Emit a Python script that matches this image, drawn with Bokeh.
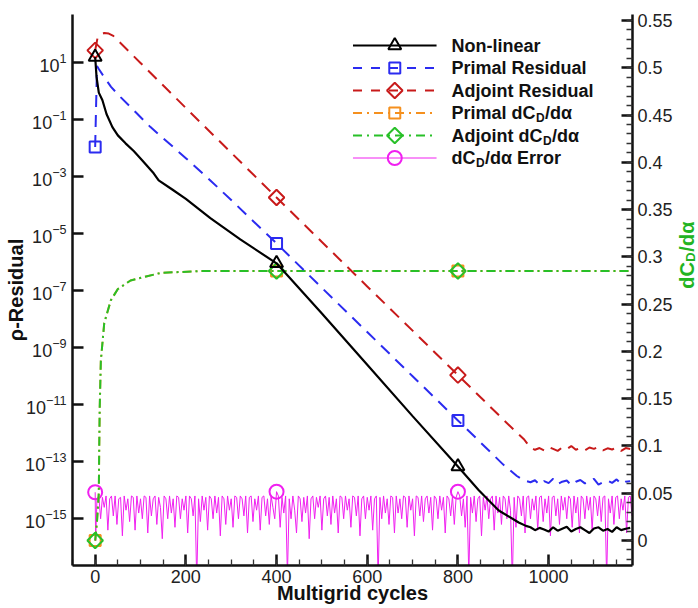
import numpy as np
from bokeh.plotting import figure
from bokeh.layouts import row
from bokeh.models import (Range1d, LinearAxis, LinearScale, FixedTicker, SingleIntervalTicker,
                          Label, CustomJSTickFormatter)
from bokeh.embed import file_html
from bokeh.resources import INLINE

# ---------------- data ----------------
# residual series are stored as log10 of the value
marked_iters = [0, 400, 800]

nonlin_x = [0, 3, 8, 16, 25, 38, 50, 67, 85, 104, 129, 140, 170, 200, 254, 320, 400, 500,
            600, 700, 800, 846, 890, 934, 950] + list(range(960, 1181, 10))
nonlin_log = [1.2, 0.5, -0.05, -0.32, -0.8, -1.26, -1.55, -1.83, -2.1, -2.43, -2.88, -3.13,
              -3.45, -3.78, -4.45, -5.2, -6.04, -7.8, -9.6, -11.4, -13.17, -14.0, -14.71,
              -15.13, -15.25,
              -15.3, -15.4, -15.32, -15.38, -15.45, -15.3, -15.42, -15.35, -15.28, -15.45,
              -15.36, -15.3, -15.4, -15.5, -15.34, -15.3, -15.42, -15.36, -15.46, -15.3,
              -15.4, -15.35, -15.32]

primal_x = [0, 4, 8, 20, 35, 56, 90, 122, 200, 254, 300, 400, 500, 600, 700, 800, 900, 930,
            945] + list(range(960, 1181, 10))
primal_log = [-1.96, 0.88, 0.78, 0.49, 0.15, -0.21, -0.75, -1.26, -2.35, -3.13, -3.82,
              -5.34, -6.9, -8.45, -10.0, -11.55, -13.1, -13.5, -13.65,
              -13.72, -13.65, -13.8, -13.68, -13.75, -13.6, -13.78, -13.7, -13.66, -13.82,
              -13.7, -13.64, -13.76, -13.7, -13.6, -13.8, -13.72, -13.66, -13.74, -13.62,
              -13.78, -13.7, -13.68]

adjoint_x = [0, 5, 12, 20, 30, 40, 100, 200, 300, 400, 500, 600, 700, 800, 900, 930,
             945, 955] + list(range(960, 1181, 10))
adjoint_log = [1.43, 1.85, 2.0, 2.04, 2.02, 1.94, 0.99, -0.59, -2.16, -3.73, -5.29,
               -6.85, -8.4, -9.96, -11.52, -11.98, -12.2, -12.4,
               -12.5, -12.58, -12.52, -12.6, -12.48, -12.55, -12.62, -12.5, -12.56, -12.45,
               -12.58, -12.52, -12.6, -12.5, -12.55, -12.48, -12.6, -12.53, -12.57, -12.5,
               -12.62, -12.52, -12.55]

dcd_x = [0, 4, 8, 9, 10, 12.5, 20, 34.5, 50, 78, 144, 232, 400, 800, 1185]
primal_dcd = [0, 0.02, 0.05, 0.1, 0.14, 0.19, 0.23, 0.254, 0.266, 0.275, 0.283, 0.285,
              0.285, 0.285, 0.285]
adjoint_dcd = [0, 0.02, 0.05, 0.1, 0.14, 0.19, 0.23, 0.254, 0.266, 0.275, 0.283, 0.285,
               0.285, 0.285, 0.285]

err_x = [0, 1] + list(range(4, 1185, 4))
err_log = [-14.07, -15.77,
    -14.3, -14.2, -15.0, -14.25, -14.6, -14.2, -15.4, -14.3, -14.2, -14.9, -14.2, -15.2, -14.3, -14.25, -15.6, -14.2, -14.7, -14.3, -15.1, -14.2,
    -14.25, -15.4, -14.2, -14.8, -14.3, -15.0, -14.2, -14.25, -15.5, -14.2, -14.9, -14.3, -14.2, -15.2, -14.25, -14.6, -15.7, -14.2, -14.3, -15.0,
    -14.2, -14.8, -14.3, -15.3, -14.2, -14.25, -15.0, -14.3, -14.7, -14.2, -15.5, -14.2, -14.3, -14.9, -14.2, -17.2, -14.3, -15.1, -14.2, -14.7,
    -14.25, -15.4, -14.2, -14.3, -15.0, -14.2, -14.8, -14.25, -15.6, -14.2, -14.3, -15.2, -14.2, -14.7, -14.3, -15.3, -14.2, -14.25, -15.0, -14.2,
    -14.3, -14.9, -14.2, -15.5, -14.25, -14.2, -15.1, -14.3, -14.7, -14.2, -15.4, -14.25, -14.2, -14.9, -14.3, -15.2, -14.2, -14.6, -15.0, -14.05,
    -14.2, -15.3, -14.25, -14.8, -14.2, -17.0, -14.3, -15.0, -14.2, -14.7, -15.5, -14.2, -14.3, -15.1, -14.25, -14.8, -14.2, -15.7, -14.3, -14.2,
    -15.0, -14.25, -14.6, -14.2, -15.4, -14.3, -14.2, -14.9, -14.25, -15.2, -14.2, -14.8, -14.3, -15.5, -14.2, -14.25, -15.0, -14.2, -14.7, -14.3,
    -15.3, -14.2, -14.25, -14.9, -14.2, -15.6, -14.3, -14.2, -15.0, -14.25, -14.7, -14.2, -15.4, -14.3, -14.2, -17.1, -14.25, -15.0, -14.2, -14.8,
    -14.3, -15.2, -14.2, -14.25, -15.5, -14.2, -14.8, -14.3, -15.0, -14.2, -14.25, -15.3, -14.2, -14.7, -14.3, -15.6, -14.2, -14.25, -14.9, -14.2,
    -15.1, -14.3, -14.2, -14.8, -14.25, -15.4, -14.2, -14.3, -15.0, -14.2, -14.7, -14.25, -15.5, -14.2, -14.3, -14.9, -14.2, -15.2, -14.25, -14.05,
    -14.2, -14.9, -14.3, -15.3, -14.2, -17.0, -14.25, -14.8, -14.2, -15.1, -14.3, -14.2, -15.6, -14.25, -14.7, -14.2, -15.0, -14.3, -14.2, -15.4,
    -14.2, -14.8, -14.25, -15.2, -14.2, -14.3, -15.0, -14.2, -14.7, -17.2, -14.25, -15.3, -14.2, -14.3, -14.9, -14.2, -15.5, -14.25, -14.2, -15.0,
    -14.3, -14.7, -14.2, -15.4, -14.25, -14.2, -15.1, -14.3, -14.8, -14.2, -15.6, -14.25, -14.2, -14.9, -14.3, -15.2, -14.2, -14.7, -14.25, -15.0,
    -14.2, -14.3, -15.3, -14.2, -14.8, -14.25, -15.5, -14.2, -14.3, -15.0, -14.2, -14.7, -14.25, -15.4, -14.2, -14.3, -14.9, -14.2, -15.1, -14.25,
    -14.2, -17.1, -14.3, -14.8, -14.2, -15.2, -14.25, -14.2, -15.0, -14.3, -14.7, -14.2, -15.5, -14.25, -14.2, -14.9]

left_ticks = [10.0 ** k for k in range(-15, 2, 2)]

# ---------------- layout constants ----------------
W, H = 698, 608
TW = 23                                    # strip on the right holding the right-axis title
FL, FR, FT, FB = 72, 635, 14, 565          # frame edges in pixels
XR = (-50, 1185)
LYR = (-16.64, 2.69)                       # log10 range of left axis
RR = (-0.0264, 0.5563)                     # right axis range

FONT = "Liberation Sans"
C_BLACK = "#000000"
C_BLUE = "#2b2bf0"
C_RED = "#c81a1a"
C_ORANGE = "#f5901e"
C_GREEN = "#28c028"
C_MAG = "#f020f0"


def px2x(px):
    return XR[0] + (px - FL) / (FR - FL) * (XR[1] - XR[0])


def py2y(py):
    return 10 ** (LYR[1] - (py - FT) / (FB - FT) * (LYR[1] - LYR[0]))


def pow10(a):
    return [10.0 ** v for v in a]


p = figure(width=W - TW, height=H, x_range=Range1d(*XR),
           y_range=Range1d(10 ** LYR[0], 10 ** LYR[1]), y_axis_type="log",
           output_backend="svg", toolbar_location=None,
           min_border_left=FL, min_border_right=W - TW - FR,
           min_border_top=FT, min_border_bottom=H - FB)
p.extra_y_ranges = {"right": Range1d(*RR)}
p.extra_y_scales = {"right": LinearScale()}
p.outline_line_color = None
p.grid.visible = False
p.background_fill_color = "white"
p.border_fill_color = "white"

lax = p.left[0]
bax = p.below[0]
rax = LinearAxis(y_range_name="right")
p.add_layout(rax, "right")

for ax in (lax, bax, rax):
    ax.axis_line_width = 2.5
    ax.axis_line_color = "#111111"
    ax.major_tick_line_width = 2.5
    ax.major_tick_line_color = "#111111"
    ax.major_tick_in = 11
    ax.major_tick_out = 0
    ax.minor_tick_in = 6
    ax.minor_tick_out = 0
    ax.minor_tick_line_width = 1.3
    ax.minor_tick_line_color = "#333333"
    ax.major_label_text_font = FONT
    ax.major_label_text_font_size = "18px"
    ax.major_label_text_color = "#222222"
    ax.axis_label_text_font = FONT
    ax.axis_label_text_font_style = "bold"
    ax.axis_label_text_font_size = "20px"
    ax.axis_label_text_color = "#111111"

lax.ticker = FixedTicker(ticks=left_ticks, minor_ticks=[])
lax.minor_tick_line_color = None
lax.major_label_standoff = 6
lax.axis_label = "ρ-Residual"
lax.axis_label_standoff = -5

bax.ticker = SingleIntervalTicker(interval=200, num_minor_ticks=4)
bax.major_label_standoff = 4
bax.axis_label = "Multigrid cycles"
bax.axis_label_standoff = -4

rax.ticker = SingleIntervalTicker(interval=0.05, num_minor_ticks=5)
rax.formatter = CustomJSTickFormatter(code="return String(Math.round(tick*100)/100);")
rax.major_label_standoff = 5

# ---------------- series ----------------
def marks(xs, ys):
    d = dict(zip(xs, ys))
    return [m for m in marked_iters], [d[m] for m in marked_iters]


MK = dict(fill_color=None, line_width=2)

# magenta error (left axis)
p.line(err_x, pow10(err_log), line_color=C_MAG, line_width=1)
mx, my = marks(err_x, pow10(err_log))
p.scatter(mx, my, marker="circle", size=14, line_color=C_MAG, **MK)

# dCD/dalpha (right axis)
p.line(dcd_x, primal_dcd, y_range_name="right", line_color=C_ORANGE, line_width=2,
       line_dash="9 4 2 4")
mx, my = marks(dcd_x, primal_dcd)
p.scatter(mx, my, y_range_name="right", marker="square", size=11, line_color=C_ORANGE, **MK)
p.line(dcd_x, adjoint_dcd, y_range_name="right", line_color=C_GREEN, line_width=2,
       line_dash="9 4 2 4")
mx, my = marks(dcd_x, adjoint_dcd)
p.scatter(mx, my, y_range_name="right", marker="square", angle=np.pi / 4, size=11,
          line_color=C_GREEN, **MK)

# adjoint residual
p.line(adjoint_x, pow10(adjoint_log), line_color=C_RED, line_width=2, line_dash="12 8")
mx, my = marks(adjoint_x, pow10(adjoint_log))
p.scatter(mx, my, marker="square", angle=np.pi / 4, size=11, line_color=C_RED, **MK)

# primal residual
p.line(primal_x, pow10(primal_log), line_color=C_BLUE, line_width=2, line_dash="12 8")
mx, my = marks(primal_x, pow10(primal_log))
p.scatter(mx, my, marker="square", size=11, line_color=C_BLUE, **MK)

# non-linear
p.line(nonlin_x, pow10(nonlin_log), line_color=C_BLACK, line_width=2.2)
mx, my = marks(nonlin_x, pow10(nonlin_log))
p.scatter(mx, my, marker="triangle", size=13, line_color=C_BLACK, **MK)

# ---------------- custom legend ----------------
entries = [
    (["Non-linear"], C_BLACK, None, "triangle", 0, 13, 2.2),
    (["Primal Residual"], C_BLUE, "9 9", "square", 0, 11, 2),
    (["Adjoint Residual"], C_RED, "9 9", "square", np.pi / 4, 11, 2),
    (["Primal dC", "D", "/dα"], C_ORANGE, "9 5 2 5", "square", 0, 11, 2),
    (["Adjoint dC", "D", "/dα"], C_GREEN, "9 5 2 5", "square", np.pi / 4, 11, 2),
    (["dC", "D", "/dα Error"], C_MAG, None, "circle", 0, 14, 1),
]
first_widths = {"Primal dC": 84.0, "Adjoint dC": 91.0, "dC": 24.0}
row0, dy_row = 45, 22.5
for i, (parts, col, dash, mk, ang, sz, lw) in enumerate(entries):
    py = row0 + i * dy_row
    yy = py2y(py)
    kw = dict(line_color=col, line_width=lw)
    if dash:
        kw["line_dash"] = dash
    p.line([px2x(354), px2x(438)], [yy, yy], **kw)
    p.scatter([px2x(396)], [yy], marker=mk, angle=ang, size=sz, line_color=col,
              fill_color=None, line_width=2)
    tkw = dict(text_font=FONT, text_font_style="bold", text_color="#111111",
               text_baseline="middle", text_align="left")
    p.add_layout(Label(x=px2x(453), y=yy, text=parts[0], text_font_size="18px", **tkw))
    if len(parts) == 3:
        w1 = first_widths[parts[0]]
        p.add_layout(Label(x=px2x(453), y=yy, x_offset=w1 + 0.5, y_offset=-5, text=parts[1],
                           text_font_size="12px", **tkw))
        p.add_layout(Label(x=px2x(453), y=yy, x_offset=w1 + 9.5, text=parts[2],
                           text_font_size="18px", **tkw))

# ---------------- right axis title (rotated, with subscript) in a thin strip ----------------
t = figure(width=TW, height=H, x_range=Range1d(0, TW), y_range=Range1d(0, H),
           output_backend="svg", toolbar_location=None, min_border=0,
           x_axis_location=None, y_axis_location=None)
t.outline_line_color = None
t.grid.visible = False
t.background_fill_color = "white"
t.border_fill_color = "white"
rk = dict(text_font=FONT, text_font_style="bold", text_color="#22b422",
          text_baseline="middle", text_align="left", angle=np.pi / 2)
tx, ty = 11.2, H - 302.5
t.add_layout(Label(x=tx, y=ty, text="dC", text_font_size="20px", **rk))
t.add_layout(Label(x=tx, y=ty, x_offset=3.5, y_offset=27, text="D",
                   text_font_size="13px", **rk))
t.add_layout(Label(x=tx, y=ty, y_offset=37, text="/dα", text_font_size="20px", **rk))

page = row(p, t, spacing=0)
open("out.html", "w").write(file_html(page, INLINE))
